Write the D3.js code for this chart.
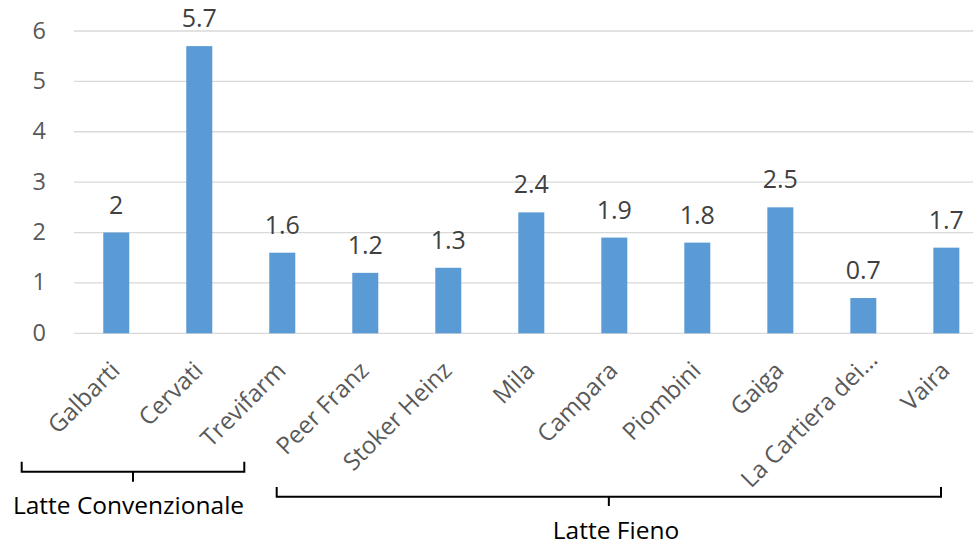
<!DOCTYPE html>
<html><head><meta charset="utf-8">
<script src="https://cdn.jsdelivr.net/npm/d3@7"></script>
<style>body{margin:0;background:#fff}svg{display:block}</style>
</head><body>
<svg id="c" width="973" height="546"></svg>
<script>
const categories = ["Galbarti","Cervati","Trevifarm","Peer Franz","Stoker Heinz","Mila","Campara","Piombini","Gaiga","La Cartiera dei…","Vaira"];
const values = [2, 5.7, 1.6, 1.2, 1.3, 2.4, 1.9, 1.8, 2.5, 0.7, 1.7];
const yTicks = [0,1,2,3,4,5,6];
const groups = [
  {name:"Latte Convenzionale", first:0, last:2},
  {name:"Latte Fieno", first:3, last:10}
];

const svg = d3.select("#c");
const font = "'Open Sans', 'Noto Sans', sans-serif";
const x = d3.scaleBand().domain(categories).range([74.8, 74.8 + 83*11]).paddingInner(0.687).paddingOuter(0.343);
const y = d3.scaleLinear().domain([0,6]).range([333.3, 31]);

// gridlines
svg.append("g").selectAll("line").data(yTicks).join("line")
  .attr("x1", 74).attr("x2", 973)
  .attr("y1", d => y(d)).attr("y2", d => y(d))
  .attr("stroke", "#d9d9d9").attr("stroke-width", 1.3);

// y axis labels
const yAxis = d3.axisLeft(y).tickValues(yTicks).tickFormat(d3.format("d")).tickSize(0).tickPadding(0);
const ya = svg.append("g").attr("transform","translate(46,0)").call(yAxis);
ya.select(".domain").remove();
ya.selectAll("text").attr("font-family", font).attr("font-size", 23.5).attr("fill", "#595959").attr("dy","0.3em");

// bars
const bw = 26;
svg.append("g").selectAll("rect").data(categories).join("rect")
  .attr("x", (d) => x(d) + x.bandwidth()/2 - bw/2)
  .attr("width", bw)
  .attr("y", (d,i) => y(values[i]))
  .attr("height", (d,i) => y(0) - y(values[i]))
  .attr("fill", "#5b9bd5");

// data labels
svg.append("g").selectAll("text").data(categories).join("text")
  .attr("x", d => x(d) + x.bandwidth()/2)
  .attr("y", (d,i) => y(values[i]) - 19)
  .attr("text-anchor","middle")
  .attr("font-family", font).attr("font-size", 25).attr("fill","#404040")
  .text((d,i) => String(values[i]));

// x labels
svg.append("g").selectAll("text").data(categories).join("text")
  .attr("transform", d => `translate(${x(d) + x.bandwidth()/2 - 1},${366}) rotate(-45)`)
  .attr("text-anchor","end")
  .attr("dx", d => d.endsWith("…") ? 15 : 0)
  .attr("dy","0.35em")
  .attr("font-family", font).attr("font-size", 24).attr("fill","#595959")
  .text(d => d);

// group brackets
const bracketSpec = [
  {x1:21.7, x2:244.3, top:461.7, yb:471.7, tip:481.7, tx:128.5, ty:514},
  {x1:276.7, x2:941, top:487, yb:496.7, tip:506, tx:616, ty:539}
];
groups.forEach((g, i) => {
  const b = bracketSpec[i];
  const xm = (b.x1 + b.x2) / 2;
  svg.append("path")
    .attr("d", `M${b.x1},${b.top}V${b.yb}H${b.x2}V${b.top}M${xm},${b.yb}V${b.tip}`)
    .attr("fill","none").attr("stroke","#000").attr("stroke-width",2);
  svg.append("text").attr("x", b.tx).attr("y", b.ty).attr("text-anchor","middle")
    .attr("font-family", font).attr("font-size", 24.5).attr("fill","#000")
    .text(g.name);
});
</script>
</body></html>
